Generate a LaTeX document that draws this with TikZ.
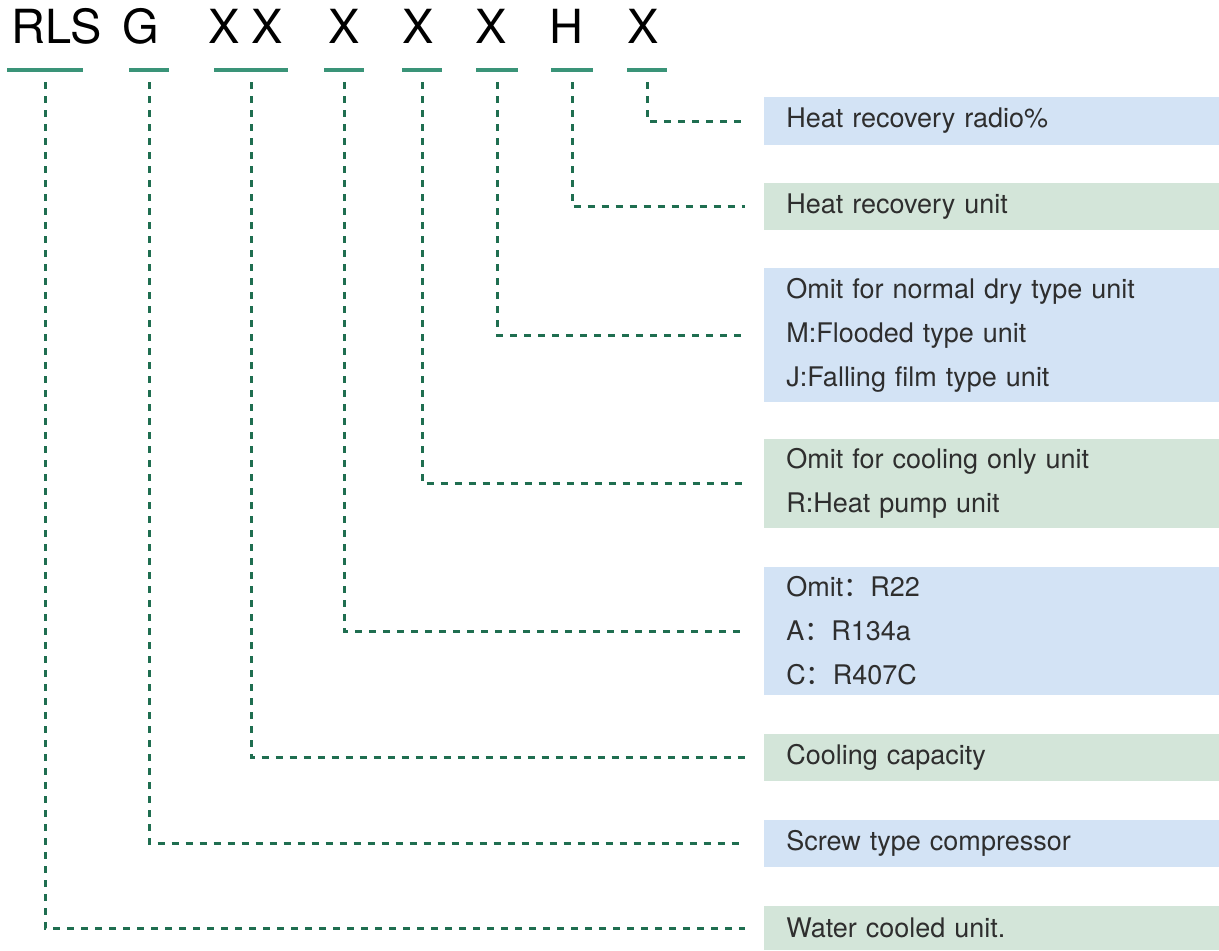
\documentclass[tikz,border=0pt]{standalone}
\usepackage{fontspec}
\setmainfont{TeX Gyre Heros}
\newfontfamily\cjk{Noto Sans CJK SC}
\usepackage{xcolor}
\definecolor{linegreen}{HTML}{1F6E50}
\definecolor{bargreen}{HTML}{3A9478}
\definecolor{boxblue}{HTML}{D3E3F5}
\definecolor{boxgreen}{HTML}{D3E5D9}
\definecolor{textgray}{HTML}{2E2E2E}

\begin{document}
\begin{tikzpicture}[x=0.5pt,y=-0.5pt,
  code/.style={anchor=base,inner sep=0pt,font=\fontsize{23.5pt}{23.5pt}\selectfont},
  bar/.style={fill=bargreen,inner sep=0pt,minimum height=1.6pt},
  tag/.style={anchor=west,inner xsep=11pt,inner ysep=0pt,text width=205.5pt,align=left,
    text=textgray,font=\fontsize{13.5pt}{22pt}\selectfont},
  link/.style={draw=linegreen,line width=1.5pt,dash pattern=on 3.5pt off 3.5pt,
    shorten <=5pt,shorten >=9.5pt}]
\useasboundingbox (0,0) rectangle (1219,950);

\node[code] (rls) at (57,43) {RLS};
\node[code] (g) at (141,43) {G};
\node[code] (xx) at (246,43) {X\hspace{6pt}X};
\node[code] (x1) at (344,43) {X};
\node[code] (x2) at (418,43) {X};
\node[code] (x3) at (491,43) {X};
\node[code] (h) at (566,43) {H};
\node[code] (x4) at (643,43) {X};

\node[bar,minimum width=38pt] (u1) at (45,70) {};
\node[bar,minimum width=20pt] (u2) at (149,70) {};
\node[bar,minimum width=37pt] (u3) at (251,70) {};
\node[bar,minimum width=20pt] (u4) at (344,70) {};
\node[bar,minimum width=20pt] (u5) at (422,70) {};
\node[bar,minimum width=21pt] (u6) at (497,70) {};
\node[bar,minimum width=21pt] (u7) at (572,70) {};
\node[bar,minimum width=20pt] (u8) at (647,70) {};

\node[tag,fill=boxblue,minimum height=24pt] (ratio) at (764,121) {Heat recovery radio\%};
\node[tag,fill=boxgreen,minimum height=23.5pt] (recov) at (764,206.5) {Heat recovery unit};
\node[tag,fill=boxblue,minimum height=67pt] (evap) at (764,335) {Omit for normal dry type unit\\M:Flooded type unit\\J:Falling film type unit};
\node[tag,fill=boxgreen,minimum height=44.5pt] (pump) at (764,483.5) {Omit for cooling only unit\\R:Heat pump unit};
\node[tag,fill=boxblue,minimum height=64pt] (refr) at (764,631) {Omit{\cjk ：}R22\\A{\cjk ：}R134a\\C{\cjk ：}R407C};
\node[tag,fill=boxgreen,minimum height=23.5pt] (capa) at (764,757.5) {Cooling capacity};
\node[tag,fill=boxblue,minimum height=23.5pt] (screw) at (764,843.5) {Screw type compressor};
\node[tag,fill=boxgreen,minimum height=22pt] (water) at (764,928) {Water cooled unit.};

\draw[link] (u8.south) |- (ratio.west);
\draw[link] (u7.south) |- (recov.west);
\draw[link] (u6.south) |- (evap.west);
\draw[link] (u5.south) |- (pump.west);
\draw[link] (u4.south) |- (refr.west);
\draw[link] (u3.south) |- (capa.west);
\draw[link] (u2.south) |- (screw.west);
\draw[link] (u1.south) |- (water.west);
\end{tikzpicture}
\end{document}
